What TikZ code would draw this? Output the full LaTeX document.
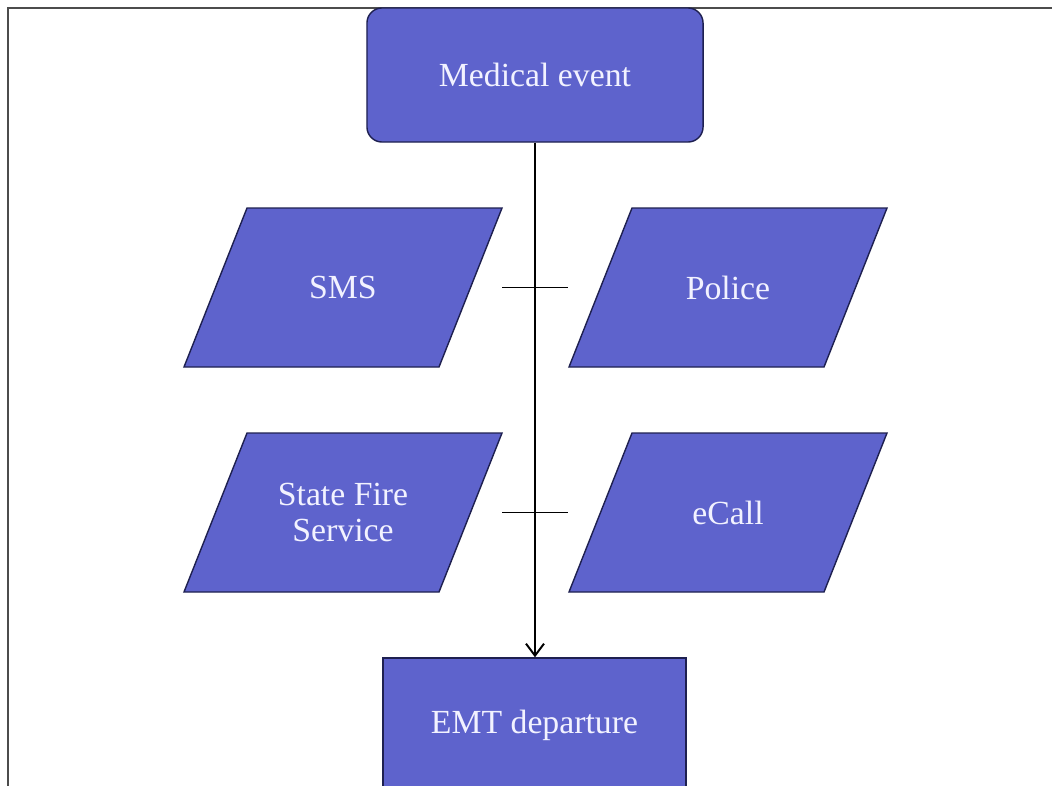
\documentclass[tikz,border=0pt]{standalone}
\usepackage{fontspec}
\setmainfont{Liberation Serif}
\usetikzlibrary{arrows.meta}
\definecolor{boxfill}{RGB}{94,99,204}
\definecolor{boxline}{RGB}{30,32,80}
\tikzset{
  every node/.style={font=\fontsize{24}{25}\selectfont, text=white!95!blue, align=center},
  base/.style={draw=boxline, fill=boxfill, line width=1pt},
  startbox/.style={base, rectangle, rounded corners=0.375cm, minimum width=8.4cm, minimum height=3.35cm},
  endbox/.style={base, rectangle, minimum width=7.575cm, minimum height=3.35cm},
}
\begin{document}
\begin{tikzpicture}[x=0.025cm, y=-0.025cm]
\useasboundingbox (0,0) rectangle (1052,785);
\clip (0,0) rectangle (1052,785);
% Frame
\draw[gray!60!black, line width=1pt] (8,800) |- (1060,8);
% Nodes
\node[startbox] (event) at (535,75) {Medical event};
\foreach \pos/\name/\txt in {{343,287.5}/sms/SMS, {728,287.5}/police/Police,
    {343,512.5}/fire/{State Fire\\Service}, {728,512.5}/ecall/eCall} {
  \draw[base] (\pos) ++(-96,-79.5) -- ++(255,0) -- ++(-63,159) -- ++(-255,0) -- cycle;
  \node (\name) at (\pos) {\txt};
}
\node[endbox] (emt) at (534.5,725) {EMT departure};
% Cross lines
\coordinate (a1) at (502,287.5);
\coordinate (a2) at (568,287.5);
\coordinate (b1) at (502,512.5);
\coordinate (b2) at (568,512.5);
\draw[line width=0.9pt] (a1) -- (a2);
\draw[line width=0.9pt] (b1) -- (b2);
% Flow
\draw[line width=1.4pt, -{Straight Barb[length=0.3cm, width=0.45cm]}] (event.south) -- (event.south |- emt.north);
\end{tikzpicture}
\end{document}
